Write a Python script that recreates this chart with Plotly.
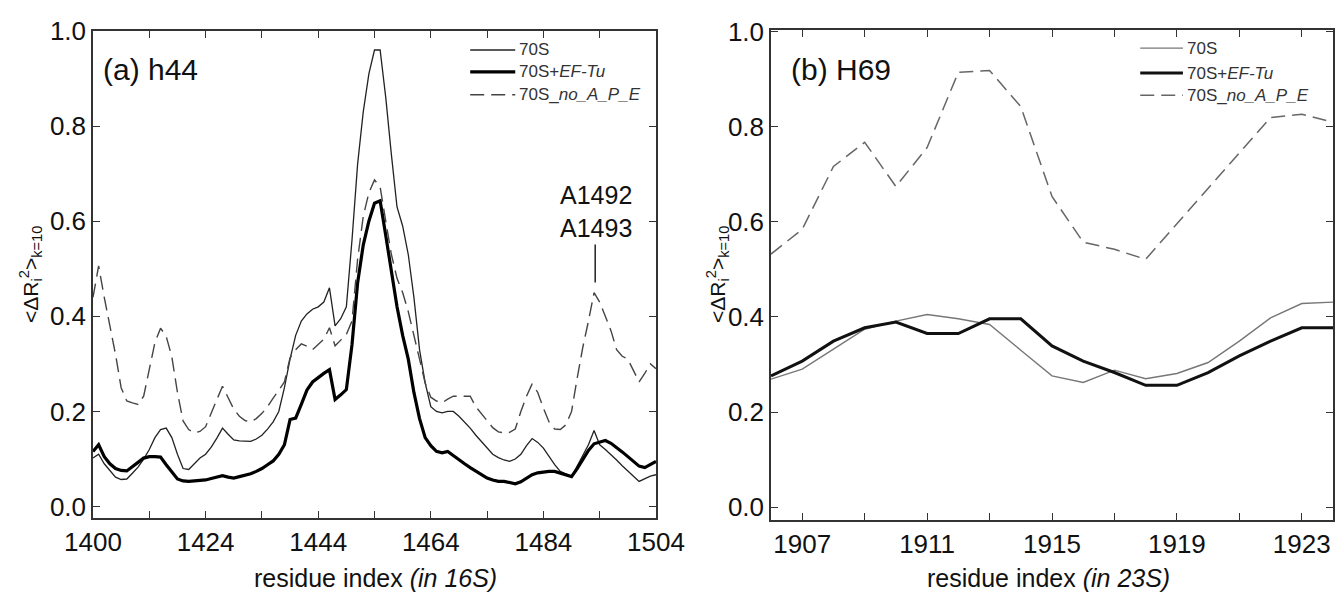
import plotly.graph_objects as go

# ---------------- data: panel (a) h44, 16S ----------------
res_a = list(range(1404, 1505))
h44_70S = [0.102, 0.110, 0.090, 0.075, 0.062, 0.057, 0.058, 0.070, 0.083, 0.100,
           0.120, 0.145, 0.162, 0.165, 0.145, 0.110, 0.080, 0.078, 0.090, 0.102,
           0.110, 0.125, 0.144, 0.165, 0.152, 0.140, 0.138, 0.137, 0.137, 0.142,
           0.150, 0.163, 0.178, 0.200, 0.250, 0.310, 0.360, 0.390, 0.405, 0.415,
           0.420, 0.430, 0.460, 0.380, 0.395, 0.420, 0.560, 0.720, 0.830, 0.910,
           0.960, 0.960, 0.860, 0.740, 0.630, 0.590, 0.530, 0.440, 0.330, 0.260,
           0.210, 0.200, 0.197, 0.200, 0.200, 0.190, 0.178, 0.165, 0.150, 0.136,
           0.122, 0.110, 0.103, 0.098, 0.095, 0.100, 0.110, 0.128, 0.143, 0.135,
           0.123, 0.105, 0.088, 0.074, 0.068, 0.063, 0.085, 0.108, 0.130, 0.160,
           0.130, 0.120, 0.110, 0.098, 0.086, 0.076, 0.064, 0.053, 0.058, 0.064,
           0.067]
h44_EFTu = [0.116, 0.130, 0.105, 0.090, 0.080, 0.076, 0.075, 0.083, 0.093, 0.102,
            0.105, 0.105, 0.104, 0.088, 0.072, 0.058, 0.054, 0.053, 0.054, 0.055,
            0.056, 0.059, 0.062, 0.065, 0.062, 0.060, 0.063, 0.066, 0.069, 0.074,
            0.080, 0.088, 0.096, 0.110, 0.130, 0.183, 0.186, 0.215, 0.245, 0.262,
            0.272, 0.280, 0.288, 0.225, 0.235, 0.246, 0.340, 0.470, 0.550, 0.600,
            0.638, 0.643, 0.570, 0.490, 0.420, 0.360, 0.310, 0.240, 0.185, 0.145,
            0.128, 0.116, 0.113, 0.116, 0.108, 0.100, 0.090, 0.082, 0.074, 0.066,
            0.060, 0.056, 0.053, 0.053, 0.050, 0.048, 0.052, 0.060, 0.067, 0.071,
            0.073, 0.074, 0.074, 0.070, 0.066, 0.063, 0.080, 0.100, 0.118, 0.132,
            0.136, 0.139, 0.133, 0.125, 0.115, 0.105, 0.095, 0.085, 0.082, 0.088,
            0.095]
h44_noAPE = [0.440, 0.506, 0.440, 0.380, 0.320, 0.250, 0.222, 0.218, 0.215, 0.232,
             0.290, 0.345, 0.375, 0.358, 0.315, 0.240, 0.180, 0.162, 0.155, 0.158,
             0.168, 0.195, 0.225, 0.253, 0.228, 0.205, 0.190, 0.181, 0.178, 0.185,
             0.196, 0.210, 0.228, 0.245, 0.262, 0.313, 0.330, 0.342, 0.337, 0.330,
             0.340, 0.352, 0.376, 0.338, 0.350, 0.362, 0.390, 0.520, 0.610, 0.660,
             0.687, 0.672, 0.600, 0.530, 0.480, 0.450, 0.410, 0.360, 0.310, 0.260,
             0.230, 0.222, 0.218, 0.226, 0.232, 0.232, 0.232, 0.232, 0.210, 0.195,
             0.179, 0.166, 0.157, 0.155, 0.156, 0.163, 0.200, 0.232, 0.258, 0.240,
             0.207, 0.178, 0.163, 0.162, 0.172, 0.200, 0.270, 0.335, 0.390, 0.450,
             0.430, 0.400, 0.370, 0.330, 0.316, 0.310, 0.285, 0.262, 0.280, 0.300,
             0.290]

# ---------------- data: panel (b) H69, 23S ----------------
res_b = list(range(1906, 1925))
h69_70S = [0.269, 0.290, 0.332, 0.374, 0.391, 0.405, 0.396, 0.384, 0.330, 0.276,
           0.262, 0.288, 0.270, 0.281, 0.304, 0.349, 0.398, 0.428, 0.431]
h69_EFTu = [0.276, 0.307, 0.349, 0.377, 0.389, 0.365, 0.365, 0.396, 0.396, 0.339,
            0.307, 0.283, 0.256, 0.256, 0.283, 0.318, 0.349, 0.377, 0.377]
h69_noAPE = [0.532, 0.584, 0.716, 0.767, 0.674, 0.756, 0.914, 0.918, 0.842, 0.653,
             0.557, 0.542, 0.521, 0.595, 0.670, 0.745, 0.819, 0.826, 0.809]

# tick labels (major) and minor tick positions
xa_tickvals = [1404, 1424, 1444, 1464, 1484, 1504]
xa_ticktext = ["1400", "1424", "1444", "1464", "1484", "1504"]
xa_minor = [1414, 1434, 1454, 1474, 1494]
xb_tickvals = [1907, 1911, 1915, 1919, 1923]
xb_ticktext = ["1907", "1911", "1915", "1919", "1923"]
xb_minor = [1909, 1913, 1917, 1921]
y_tickvals = [0.0, 0.2, 0.4, 0.6, 0.8, 1.0]
y_ticktext = ["0.0", "0.2", "0.4", "0.6", "0.8", "1.0"]

names = ["70S", "70S+<i>EF-Tu</i>", "70S_<i>no_A_P_E</i>"]

W, H = 1335, 597
FONT = "Liberation Sans, Arial, sans-serif"

fig = go.Figure()

styles_a = [dict(color="#222222", width=1.3),
            dict(color="#000000", width=3.2),
            dict(color="#444444", width=1.4, dash="14px,7px")]
styles_b = [dict(color="#777777", width=1.4),
            dict(color="#111111", width=3.0),
            dict(color="#666666", width=1.5, dash="14px,7px")]

for ys, st, nm in zip([h44_70S, h44_EFTu, h44_noAPE], styles_a, names):
    fig.add_trace(go.Scatter(x=res_a, y=ys, mode="lines", line=st, name=nm,
                             xaxis="x", yaxis="y", showlegend=False))
for ys, st, nm in zip([h69_70S, h69_EFTu, h69_noAPE], styles_b, names):
    fig.add_trace(go.Scatter(x=res_b, y=ys, mode="lines", line=st, name=nm,
                             xaxis="x2", yaxis="y2", showlegend=False))


def px(x):
    return x / W


def py(y):
    return 1 - y / H


axis_common = dict(showline=True, linecolor="#333333", linewidth=1.5, mirror="ticks",
                   ticks="inside", ticklen=7, tickwidth=1, tickcolor="#333333",
                   showgrid=False, zeroline=False, automargin=False,
                   tickfont=dict(family=FONT, size=26, color="#111111"))


def minor(vals):
    return dict(tickmode="array", tickvals=vals, ticks="inside", ticklen=7,
                tickwidth=1, tickcolor="#333333", showgrid=False)


fig.update_layout(
    width=W, height=H,
    margin=dict(l=0, r=0, t=0, b=0, autoexpand=False),
    paper_bgcolor="white", plot_bgcolor="white",
    xaxis=dict(domain=[px(93), px(656)], range=[1404, 1504], anchor="y",
               tickmode="array", tickvals=xa_tickvals, ticktext=xa_ticktext,
               minor=minor(xa_minor), **axis_common),
    yaxis=dict(domain=[py(518), py(31)], range=[-0.024, 1.0], anchor="x",
               tickmode="array", tickvals=y_tickvals, ticktext=y_ticktext, **axis_common),
    xaxis2=dict(domain=[px(771), px(1333)], range=[1906, 1924], anchor="y2",
                tickmode="array", tickvals=xb_tickvals, ticktext=xb_ticktext,
                minor=minor(xb_minor), **axis_common),
    yaxis2=dict(domain=[py(520), py(30)], range=[-0.027, 1.003], anchor="x2",
                tickmode="array", tickvals=y_tickvals, ticktext=y_ticktext, **axis_common),
)

annotations = []
shapes = []

# legends drawn per panel
leg_a = dict(x0=0.67, x1=0.75, ys=[0.961, 0.916, 0.869], xref="x domain", yref="y domain")
leg_b = dict(x0=0.657, x1=0.733, ys=[0.963, 0.912, 0.867], xref="x2 domain", yref="y2 domain")
for leg, stl in [(leg_a, styles_a), (leg_b, styles_b)]:
    for yy, st, nm in zip(leg["ys"], stl, names):
        shapes.append(dict(type="line", xref=leg["xref"], yref=leg["yref"],
                           x0=leg["x0"], x1=leg["x1"], y0=yy, y1=yy,
                           line=dict(color=st["color"], width=st["width"],
                                     dash=st.get("dash", "solid"))))
        annotations.append(dict(xref=leg["xref"], yref=leg["yref"], x=leg["x1"] + 0.003, y=yy,
                                text=nm, showarrow=False, xanchor="left", yanchor="middle",
                                font=dict(family=FONT, size=17, color="#333333")))

# panel labels
annotations.append(dict(xref="x domain", yref="y domain", x=0.014, y=0.92, text="(a) h44",
                        showarrow=False, xanchor="left", yanchor="middle",
                        font=dict(family=FONT, size=30, color="#111111")))
annotations.append(dict(xref="x2 domain", yref="y2 domain", x=0.032, y=0.92, text="(b) H69",
                        showarrow=False, xanchor="left", yanchor="middle",
                        font=dict(family=FONT, size=30, color="#111111")))

# A1492 / A1493 marker
annotations.append(dict(xref="x", yref="y", x=1493.4, y=0.62, text="A1492<br>A1493",
                        showarrow=False, xanchor="center", yanchor="middle",
                        font=dict(family=FONT, size=25, color="#111111")))
shapes.append(dict(type="line", xref="x", yref="y", x0=1493.2, x1=1493.2, y0=0.551, y1=0.471,
                   line=dict(color="#222222", width=1.5)))

# axis titles
ytitle = "&lt;ΔR<sub>i</sub><sup>2</sup>&gt;<sub>k=10</sub>"
annotations.append(dict(xref="paper", yref="paper", x=px(30), y=py(275), text=ytitle,
                        showarrow=False, textangle=-90, xanchor="center", yanchor="middle",
                        font=dict(family=FONT, size=21, color="#111111")))
annotations.append(dict(xref="paper", yref="paper", x=px(717), y=py(275), text=ytitle,
                        showarrow=False, textangle=-90, xanchor="center", yanchor="middle",
                        font=dict(family=FONT, size=21, color="#111111")))
annotations.append(dict(xref="paper", yref="paper", x=px(375), y=py(578),
                        text="residue index <i>(in 16S)</i>", showarrow=False,
                        xanchor="center", yanchor="middle",
                        font=dict(family=FONT, size=25, color="#111111")))
annotations.append(dict(xref="paper", yref="paper", x=px(1048), y=py(578),
                        text="residue index <i>(in 23S)</i>", showarrow=False,
                        xanchor="center", yanchor="middle",
                        font=dict(family=FONT, size=25, color="#111111")))

fig.update_layout(annotations=annotations, shapes=shapes)

# remove the default 8px page margin so the figure sits at the window's corner
fig.write_html("out.html",
               config={"displayModeBar": False},
               post_script="document.body.style.margin='0';"
                           "document.body.style.overflow='hidden';")
